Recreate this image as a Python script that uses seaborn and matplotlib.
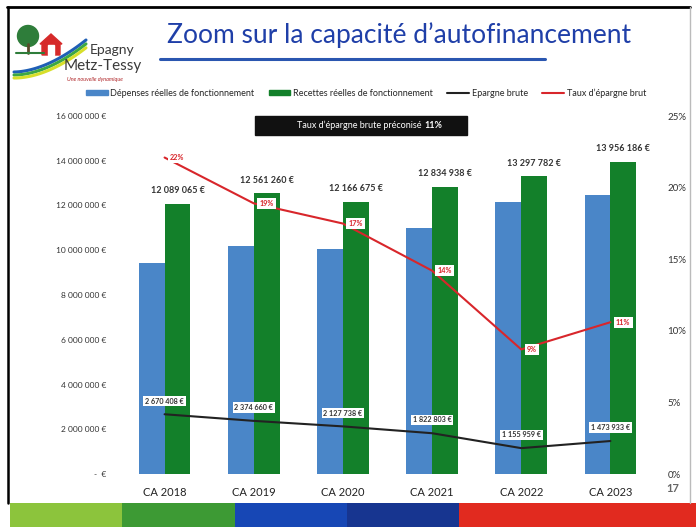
import numpy as np
import pandas as pd
import matplotlib
matplotlib.use('Agg')
import matplotlib.pyplot as plt
import matplotlib.patches as mpatches
from matplotlib.lines import Line2D
import seaborn as sns

# --- Data ---
years = ['CA 2018', 'CA 2019', 'CA 2020', 'CA 2021', 'CA 2022', 'CA 2023']
depenses = [9418657, 10186600, 10038937, 11012135, 12141823, 12482253]
recettes = [12089065, 12561260, 12166675, 12834938, 13297782, 13956186]
epargne = [2670408, 2374660, 2127738, 1822803, 1155959, 1473933]
taux = [22.1, 18.9, 17.49, 14.2, 8.7, 10.6]

left_ticks = [0, 2000000, 4000000, 6000000, 8000000, 10000000, 12000000, 14000000, 16000000]
right_ticks = [0, 5, 10, 15, 20, 25]

c_blue = '#4a86c8'
c_green = '#13802a'
c_black = '#222222'
c_red = '#d8262b'

sns.set_style('white')
plt.rcParams['font.family'] = ['Lato', 'DejaVu Sans']

W, H = 696, 527
fig = plt.figure(figsize=(W / 100, H / 100), dpi=100)

# decoration layer in pixel coords (frame, logo, bottom strip)
bg = fig.add_axes([0, 0, 1, 1])
bg.set_xlim(0, W)
bg.set_ylim(H, 0)
bg.axis('off')
bg.patch.set_alpha(0)

# slide frame
bg.plot([7, 690], [7, 7], color='black', lw=2)
bg.plot([8, 8], [7, 503], color='black', lw=1.8)
bg.plot([690, 690], [7, 503], color='#bbbbbb', lw=1)

# bottom strip
strip = [(10, 122, '#8cc43c'), (122, 235, '#3d9a34'), (235, 347, '#1747b5'),
         (347, 459, '#173590'), (459, 696, '#e12a1f')]
for x0, x1, col in strip:
    bg.add_patch(mpatches.Rectangle((x0, 503), x1 - x0, 24, color=col, lw=0))

# logo
bg.add_patch(mpatches.Circle((28, 36), 10.5, color='#2e7d3a'))
bg.plot([28, 28], [44, 53], color='#5a4a2a', lw=2)
bg.plot([16, 44], [53, 53], color='#2e7d3a', lw=1.5)
bg.add_patch(mpatches.Polygon([[40, 44], [51, 34], [62, 44], [60, 44], [60, 55], [42, 55], [42, 44]],
                              closed=True, color='#d62a2a'))
bg.add_patch(mpatches.Rectangle((48, 45), 6, 10, color='white'))
for dy, col in [(0, '#1f5fb5'), (3, '#3ea843'), (6, '#d7df2a')]:
    t = np.linspace(0, 1, 30)
    bg.plot(14 + t * 72, 72 + dy - 32 * t ** 1.8 + dy * t * 0.3, color=col, lw=2.2,
            solid_capstyle='round')
bg.text(112, 50, 'Epagny', fontsize=10, color='#3a3a3a', ha='center', va='center')
bg.text(103, 66, 'Metz-Tessy', fontsize=11, color='#3a3a3a', ha='center', va='center')
bg.text(95, 80, 'Une nouvelle dynamique', fontsize=4, color='#b0272a', ha='center', va='center',
        style='italic')

# title
bg.text(399, 35, 'Zoom sur la capacité d\u2019autofinancement', fontsize=19, color='#1f3fa8',
        ha='center', va='center')
bg.plot([160, 545], [59, 59], color='#2a56b0', lw=2.2)

# recommended rate box
bg.add_patch(mpatches.Rectangle((255, 116), 212, 19, color='#111111'))
bg.text(424, 125.5, 'Taux d\u2019épargne brute préconisé ', fontsize=6.5, color='white',
        ha='right', va='center')
bg.text(424, 125.5, '11%', fontsize=6.5, color='white', ha='left', va='center', fontweight='bold')

bg.text(673, 489, '17', fontsize=8, color='#666666', ha='center', va='center', fontweight='bold')

# --- Chart ---
ax = fig.add_axes([120 / W, 1 - 474 / H, 535 / W, 358 / H])
ax.patch.set_alpha(0)

df = pd.DataFrame({
    'annee': years * 2,
    'montant': depenses + recettes,
    'serie': ['Dépenses réelles de fonctionnement'] * 6 + ['Recettes réelles de fonctionnement'] * 6,
})
sns.barplot(data=df, x='annee', y='montant', hue='serie', palette=[c_blue, c_green],
            width=0.58, gap=0, ax=ax, legend=False, saturation=1, linewidth=0, zorder=1)

xpos = np.arange(len(years))
sns.lineplot(x=xpos, y=epargne, color=c_black, lw=1.5, ax=ax, zorder=3)

ax.set_ylim(0, 16000000)
ax.set_xlim(-0.5, len(years) - 0.5)
ax.set_yticks(left_ticks)
ax.set_yticklabels([('-  €' if v == 0 else f'{v:,.0f} €'.replace(',', ' ')) for v in left_ticks])
ax.tick_params(axis='y', labelsize=6, colors='#333333', length=0, pad=10)
ax.tick_params(axis='x', labelsize=8, colors='#222222', length=0, pad=9)
ax.set_xlabel('')
ax.set_ylabel('')
sns.despine(ax=ax, left=True, bottom=True)

# recettes labels above green bars
bar_w = 0.58 / 2
for i, v in enumerate(recettes):
    ax.annotate(f'{v:,.0f} €'.replace(',', ' '), (i + bar_w / 2, v), xytext=(0, 6),
                textcoords='offset points', ha='center', va='bottom', fontsize=6.5,
                fontweight='bold', color='#333333')

# epargne labels
for i, v in enumerate(epargne):
    ax.annotate(f'{v:,.0f} €'.replace(',', ' '), (i, v), xytext=(0, 7),
                textcoords='offset points', ha='center', va='bottom', fontsize=5.2,
                fontweight='bold', color='#333333', zorder=4,
                bbox=dict(boxstyle='square,pad=0.25', fc='white', ec='none'))

ax2 = ax.twinx()
ax2.patch.set_alpha(0)
sns.lineplot(x=xpos, y=taux, color=c_red, lw=1.5, ax=ax2)
ax2.set_ylim(0, 25)
ax2.set_yticks(right_ticks)
ax2.set_yticklabels([f'{v}%' for v in right_ticks])
ax2.tick_params(axis='y', labelsize=7, colors='#333333', length=0, pad=9)
ax2.set_ylabel('')
sns.despine(ax=ax2, left=True, bottom=True, right=True)

for i, v in enumerate(taux):
    ax2.annotate(f'{round(v)}%', (i, v), xytext=(4, 0), textcoords='offset points',
                 ha='left', va='center', fontsize=5.2, fontweight='bold', color=c_red,
                 bbox=dict(boxstyle='square,pad=0.3', fc='white', ec='none'))

# legend
handles = [
    mpatches.Patch(color=c_blue, label='Dépenses réelles de fonctionnement'),
    mpatches.Patch(color=c_green, label='Recettes réelles de fonctionnement'),
    Line2D([0], [0], color=c_black, lw=1.5, label='Epargne brute'),
    Line2D([0], [0], color=c_red, lw=1.5, label='Taux d\u2019épargne brut'),
]
fig.legend(handles=handles, loc='center', bbox_to_anchor=(366 / W, 1 - 93 / H), ncol=4,
           frameon=False, fontsize=6.5, handlelength=2.4, handleheight=0.6, handletextpad=0.3,
           columnspacing=1.6)

fig.savefig('out.png', dpi=100)
